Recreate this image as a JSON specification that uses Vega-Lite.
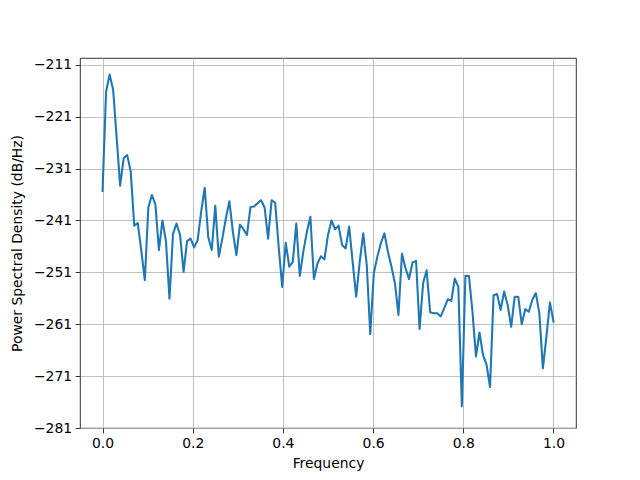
{
  "$schema": "https://vega.github.io/schema/vega-lite/v6.json",
  "width": 496,
  "height": 370,
  "autosize": {"type": "none"},
  "padding": {"left": 80, "top": 58, "right": 64, "bottom": 52},
  "background": "white",
  "config": {
    "view": {"stroke": "black", "strokeWidth": 0.8},
    "font": "DejaVu Sans",
    "axis": {
      "grid": true,
      "gridColor": "#b0b0b0",
      "gridWidth": 0.8,
      "domain": false,
      "tickColor": "black",
      "tickWidth": 0.8,
      "tickSize": 4.9,
      "labelPadding": 3.5,
      "labelFont": "DejaVu Sans",
      "labelFontSize": 13.9,
      "labelColor": "black",
      "titleFont": "DejaVu Sans",
      "titleFontSize": 13.9,
      "titleFontWeight": "normal",
      "titleColor": "black"
    }
  },
  "data": {
    "values": [
      {"f": 0, "psd": -235.3},
      {"f": 0.0078125, "psd": -216.2},
      {"f": 0.015625, "psd": -212.9},
      {"f": 0.0234375, "psd": -215.75},
      {"f": 0.03125, "psd": -225.0},
      {"f": 0.0390625, "psd": -234.3},
      {"f": 0.046875, "psd": -229.0},
      {"f": 0.0546875, "psd": -228.4},
      {"f": 0.0625, "psd": -231.6},
      {"f": 0.0703125, "psd": -242.0},
      {"f": 0.078125, "psd": -241.5},
      {"f": 0.0859375, "psd": -246.8},
      {"f": 0.09375, "psd": -252.5},
      {"f": 0.1015625, "psd": -238.5},
      {"f": 0.109375, "psd": -236.1},
      {"f": 0.1171875, "psd": -237.9},
      {"f": 0.125, "psd": -246.7},
      {"f": 0.1328125, "psd": -241.0},
      {"f": 0.140625, "psd": -245.0},
      {"f": 0.1484375, "psd": -256.1},
      {"f": 0.15625, "psd": -243.6},
      {"f": 0.1640625, "psd": -241.6},
      {"f": 0.171875, "psd": -243.8},
      {"f": 0.1796875, "psd": -250.9},
      {"f": 0.1875, "psd": -245.0},
      {"f": 0.1953125, "psd": -244.5},
      {"f": 0.203125, "psd": -246.2},
      {"f": 0.2109375, "psd": -244.8},
      {"f": 0.21875, "psd": -239.3},
      {"f": 0.2265625, "psd": -234.7},
      {"f": 0.234375, "psd": -244.2},
      {"f": 0.2421875, "psd": -246.7},
      {"f": 0.25, "psd": -238.2},
      {"f": 0.2578125, "psd": -248.0},
      {"f": 0.265625, "psd": -244.5},
      {"f": 0.2734375, "psd": -240.6},
      {"f": 0.28125, "psd": -237.3},
      {"f": 0.2890625, "psd": -243.2},
      {"f": 0.296875, "psd": -247.7},
      {"f": 0.3046875, "psd": -241.8},
      {"f": 0.3125, "psd": -242.7},
      {"f": 0.3203125, "psd": -243.8},
      {"f": 0.328125, "psd": -238.4},
      {"f": 0.3359375, "psd": -238.3},
      {"f": 0.34375, "psd": -237.7},
      {"f": 0.3515625, "psd": -237.1},
      {"f": 0.359375, "psd": -238.5},
      {"f": 0.3671875, "psd": -244.5},
      {"f": 0.375, "psd": -237.1},
      {"f": 0.3828125, "psd": -237.6},
      {"f": 0.390625, "psd": -246.1},
      {"f": 0.3984375, "psd": -253.8},
      {"f": 0.40625, "psd": -245.3},
      {"f": 0.4140625, "psd": -249.9},
      {"f": 0.421875, "psd": -249.0},
      {"f": 0.4296875, "psd": -241.6},
      {"f": 0.4375, "psd": -251.7},
      {"f": 0.4453125, "psd": -247.0},
      {"f": 0.453125, "psd": -243.2},
      {"f": 0.4609375, "psd": -240.3},
      {"f": 0.46875, "psd": -252.3},
      {"f": 0.4765625, "psd": -249.3},
      {"f": 0.484375, "psd": -247.9},
      {"f": 0.4921875, "psd": -248.5},
      {"f": 0.5, "psd": -243.8},
      {"f": 0.5078125, "psd": -241.0},
      {"f": 0.515625, "psd": -242.7},
      {"f": 0.5234375, "psd": -242.0},
      {"f": 0.53125, "psd": -245.75},
      {"f": 0.5390625, "psd": -246.4},
      {"f": 0.546875, "psd": -242.2},
      {"f": 0.5546875, "psd": -249.0},
      {"f": 0.5625, "psd": -255.7},
      {"f": 0.5703125, "psd": -249.0},
      {"f": 0.578125, "psd": -243.5},
      {"f": 0.5859375, "psd": -249.6},
      {"f": 0.59375, "psd": -262.9},
      {"f": 0.6015625, "psd": -251.2},
      {"f": 0.609375, "psd": -248.0},
      {"f": 0.6171875, "psd": -245.4},
      {"f": 0.625, "psd": -243.5},
      {"f": 0.6328125, "psd": -247.0},
      {"f": 0.640625, "psd": -249.9},
      {"f": 0.6484375, "psd": -253.1},
      {"f": 0.65625, "psd": -259.2},
      {"f": 0.6640625, "psd": -247.4},
      {"f": 0.671875, "psd": -250.2},
      {"f": 0.6796875, "psd": -252.3},
      {"f": 0.6875, "psd": -249.1},
      {"f": 0.6953125, "psd": -248.8},
      {"f": 0.703125, "psd": -261.9},
      {"f": 0.7109375, "psd": -253.1},
      {"f": 0.71875, "psd": -250.6},
      {"f": 0.7265625, "psd": -258.7},
      {"f": 0.734375, "psd": -258.9},
      {"f": 0.7421875, "psd": -258.9},
      {"f": 0.75, "psd": -259.5},
      {"f": 0.7578125, "psd": -257.9},
      {"f": 0.765625, "psd": -256.2},
      {"f": 0.7734375, "psd": -256.5},
      {"f": 0.78125, "psd": -252.2},
      {"f": 0.7890625, "psd": -253.8},
      {"f": 0.796875, "psd": -276.8},
      {"f": 0.8046875, "psd": -251.65},
      {"f": 0.8125, "psd": -251.7},
      {"f": 0.8203125, "psd": -258.5},
      {"f": 0.828125, "psd": -267.2},
      {"f": 0.8359375, "psd": -262.6},
      {"f": 0.84375, "psd": -266.9},
      {"f": 0.8515625, "psd": -268.8},
      {"f": 0.859375, "psd": -273.1},
      {"f": 0.8671875, "psd": -255.4},
      {"f": 0.875, "psd": -255.2},
      {"f": 0.8828125, "psd": -258.25},
      {"f": 0.890625, "psd": -254.7},
      {"f": 0.8984375, "psd": -257.3},
      {"f": 0.90625, "psd": -261.5},
      {"f": 0.9140625, "psd": -255.7},
      {"f": 0.921875, "psd": -255.7},
      {"f": 0.9296875, "psd": -261.0},
      {"f": 0.9375, "psd": -258.1},
      {"f": 0.9453125, "psd": -258.6},
      {"f": 0.953125, "psd": -256.3},
      {"f": 0.9609375, "psd": -255.0},
      {"f": 0.96875, "psd": -258.9},
      {"f": 0.9765625, "psd": -269.5},
      {"f": 0.984375, "psd": -263.4},
      {"f": 0.9921875, "psd": -256.8},
      {"f": 1.0, "psd": -260.5}
    ]
  },
  "mark": {"type": "line", "color": "#1f77b4", "strokeWidth": 2.08, "strokeJoin": "round", "strokeCap": "square"},
  "encoding": {
    "x": {
      "field": "f",
      "type": "quantitative",
      "scale": {"domain": [-0.05, 1.05], "nice": false, "zero": false},
      "axis": {"values": [0, 0.2, 0.4, 0.6, 0.8, 1.0], "format": ".1f", "title": "Frequency", "titlePadding": 6}
    },
    "y": {
      "field": "psd",
      "type": "quantitative",
      "scale": {"domain": [-281, -209.7], "nice": false, "zero": false},
      "axis": {"values": [-281, -271, -261, -251, -241, -231, -221, -211], "format": "d", "title": "Power Spectral Density (dB/Hz)", "titlePadding": 9}
    }
  }
}
